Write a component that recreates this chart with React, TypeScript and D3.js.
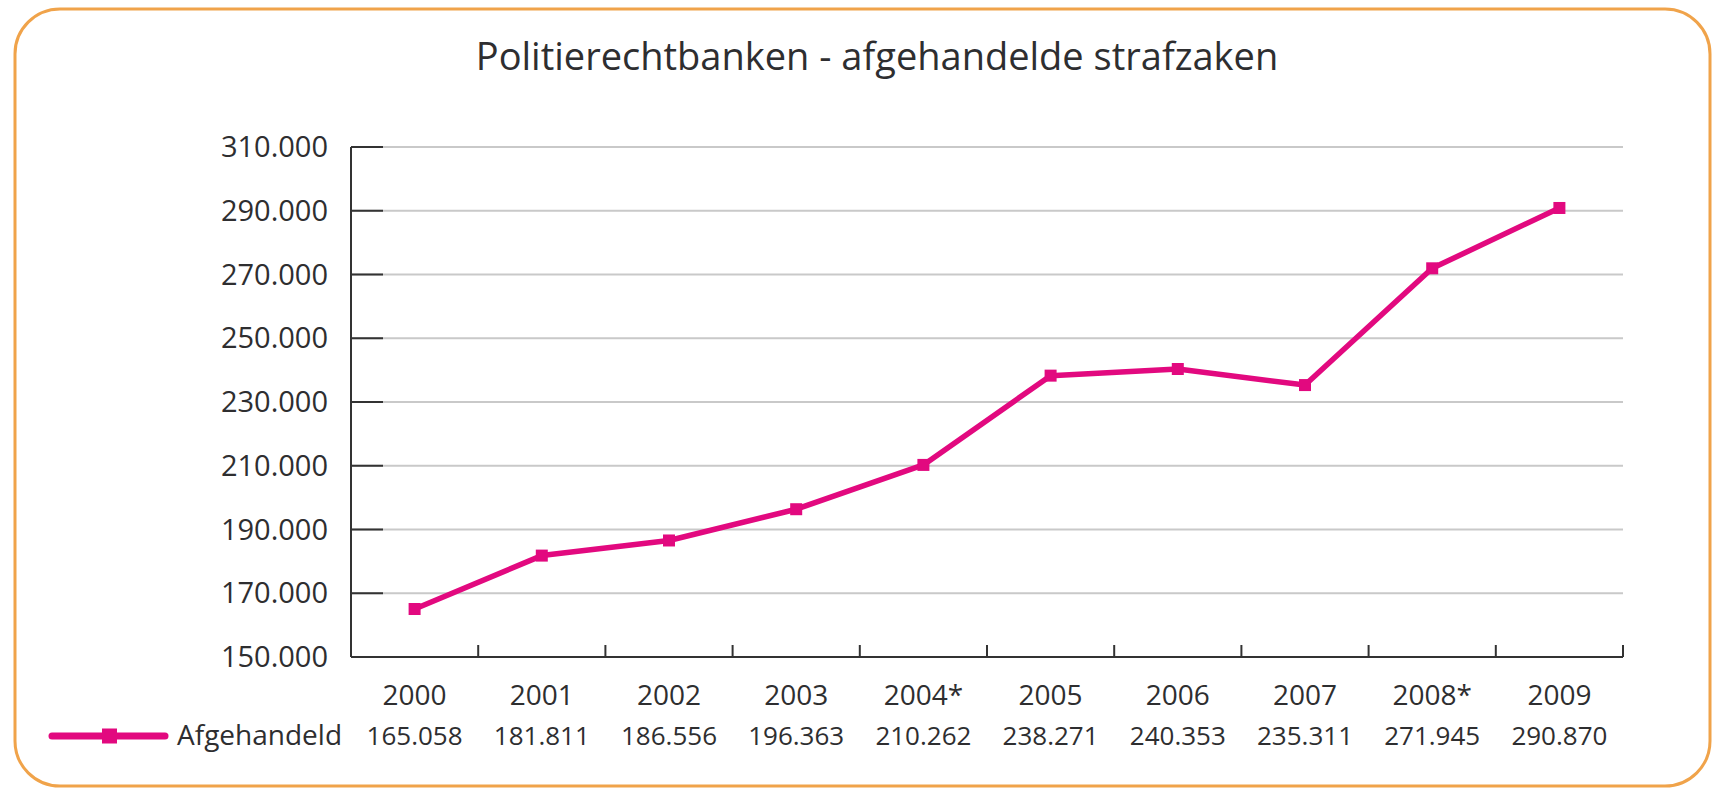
import React, { useEffect, useRef } from 'react';
import * as d3 from 'd3';

const years = ['2000', '2001', '2002', '2003', '2004*', '2005', '2006', '2007', '2008*', '2009'];
const afgehandeld = [165058, 181811, 186556, 196363, 210262, 238271, 240353, 235311, 271945, 290870];
const yTicks = [150000, 170000, 190000, 210000, 230000, 250000, 270000, 290000, 310000];
const seriesName = 'Afgehandeld';
const title = 'Politierechtbanken - afgehandelde strafzaken';

const nl = d3.formatLocale({ decimal: ',', thousands: '.', grouping: [3], currency: ['', ''] });
const fmt = nl.format(',');

function App() {
  const svgRef = useRef<SVGSVGElement>(null);

  useEffect(() => {
    const svg = d3.select(svgRef.current);
    svg.selectAll('*').remove();

    const width = 1713;
    const height = 788;
    const font = "'Open Sans', 'Noto Sans', sans-serif";
    const textColor = '#2e2e30';
    const pink = '#e2097f';

    svg.attr('width', width).attr('height', height);

    // frame
    svg.append('rect')
      .attr('x', 15).attr('y', 9)
      .attr('width', 1695).attr('height', 777)
      .attr('rx', 45).attr('ry', 45)
      .attr('fill', '#fff')
      .attr('stroke', '#f0a34a')
      .attr('stroke-width', 3);

    svg.append('text')
      .attr('x', 877).attr('y', 70)
      .attr('text-anchor', 'middle')
      .attr('font-family', font)
      .attr('font-size', 38)
      .attr('fill', textColor)
      .text(title);

    const x = d3.scaleBand().domain(years).range([351, 1623]);
    const y = d3.scaleLinear().domain([150000, 310000]).range([657, 147]);

    // gridlines + dark tick stubs
    const grid = svg.append('g');
    grid.selectAll('line.grid')
      .data(yTicks.slice(1))
      .enter().append('line')
      .attr('class', 'grid')
      .attr('x1', 351).attr('x2', 1623)
      .attr('y1', d => y(d)).attr('y2', d => y(d))
      .attr('stroke', '#c9c9c9')
      .attr('stroke-width', 2);
    grid.selectAll('line.stub')
      .data(yTicks.slice(1))
      .enter().append('line')
      .attr('class', 'stub')
      .attr('x1', 351).attr('x2', 383)
      .attr('y1', d => y(d)).attr('y2', d => y(d))
      .attr('stroke', '#333')
      .attr('stroke-width', 2);

    grid.selectAll('text.ylab')
      .data(yTicks)
      .enter().append('text')
      .attr('class', 'ylab')
      .attr('x', 328)
      .attr('y', d => y(d) + 10)
      .attr('text-anchor', 'end')
      .attr('font-family', font)
      .attr('font-size', 29)
      .attr('fill', textColor)
      .text(d => fmt(d));

    // axes
    svg.append('line')
      .attr('x1', 351).attr('x2', 351)
      .attr('y1', y(310000)).attr('y2', y(150000))
      .attr('stroke', '#333').attr('stroke-width', 2);
    svg.append('line')
      .attr('x1', 351).attr('x2', 1623)
      .attr('y1', y(150000)).attr('y2', y(150000))
      .attr('stroke', '#333').attr('stroke-width', 2);
    svg.selectAll('line.xtick')
      .data(years)
      .enter().append('line')
      .attr('class', 'xtick')
      .attr('x1', d => (x(d) as number) + x.bandwidth())
      .attr('x2', d => (x(d) as number) + x.bandwidth())
      .attr('y1', y(150000) - 12).attr('y2', y(150000))
      .attr('stroke', '#333').attr('stroke-width', 2);

    // year labels + value table row
    svg.selectAll('text.year')
      .data(years)
      .enter().append('text')
      .attr('class', 'year')
      .attr('x', d => (x(d) as number) + x.bandwidth() / 2)
      .attr('y', 705)
      .attr('text-anchor', 'middle')
      .attr('font-family', font)
      .attr('font-size', 28)
      .attr('fill', textColor)
      .text(d => d);

    svg.selectAll('text.val')
      .data(afgehandeld)
      .enter().append('text')
      .attr('class', 'val')
      .attr('x', (d, i) => (x(years[i]) as number) + x.bandwidth() / 2)
      .attr('y', 745)
      .attr('text-anchor', 'middle')
      .attr('font-family', font)
      .attr('font-size', 26)
      .attr('fill', textColor)
      .text(d => fmt(d));

    // legend
    svg.append('line')
      .attr('x1', 52).attr('x2', 165)
      .attr('y1', 736).attr('y2', 736)
      .attr('stroke', pink).attr('stroke-width', 7)
      .attr('stroke-linecap', 'round');
    svg.append('rect')
      .attr('x', 102).attr('y', 728.5)
      .attr('width', 15).attr('height', 15)
      .attr('fill', pink);
    svg.append('text')
      .attr('x', 177).attr('y', 745)
      .attr('font-family', font)
      .attr('font-size', 28)
      .attr('fill', textColor)
      .text(seriesName);

    // series
    const line = d3.line<number>()
      .x((d, i) => (x(years[i]) as number) + x.bandwidth() / 2)
      .y(d => y(d));
    svg.append('path')
      .datum(afgehandeld)
      .attr('d', line)
      .attr('fill', 'none')
      .attr('stroke', pink)
      .attr('stroke-width', 5.5)
      .attr('stroke-linejoin', 'round');
    const m = 12;
    svg.selectAll('rect.pt')
      .data(afgehandeld)
      .enter().append('rect')
      .attr('class', 'pt')
      .attr('x', (d, i) => (x(years[i]) as number) + x.bandwidth() / 2 - m / 2)
      .attr('y', d => y(d) - m / 2)
      .attr('width', m).attr('height', m)
      .attr('fill', pink);
  }, []);

  return (
    <div style={{ position: 'absolute', left: 0, top: 0 }}>
      <svg ref={svgRef} style={{ display: 'block' }}></svg>
    </div>
  );
}

export default App;
